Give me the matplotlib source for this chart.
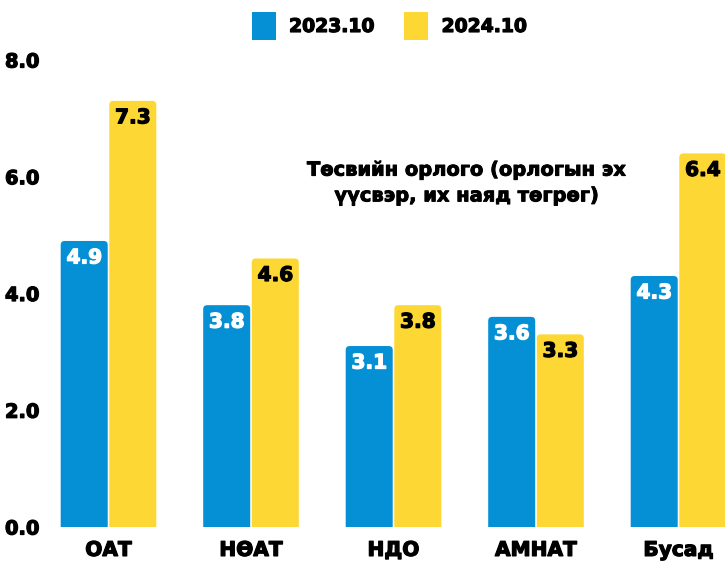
import matplotlib
matplotlib.use("Agg")
import matplotlib.pyplot as plt
from matplotlib.patches import FancyBboxPatch, Patch
import matplotlib.transforms as mtrans
import matplotlib.patheffects as pe
import numpy as np

categories = ["ОАТ", "НӨАТ", "НДО", "АМНАТ", "Бусад"]
values_2023 = [4.9, 3.8, 3.1, 3.6, 4.3]
values_2024 = [7.3, 4.6, 3.8, 3.3, 6.4]
series_names = ["2023.10", "2024.10"]
yticks = [0.0, 2.0, 4.0, 6.0, 8.0]
title_text = "Төсвийн орлого (орлогын эх\nүүсвэр, их наяд төгрөг)"

BLUE = "#0590D5"
YELLOW = "#FDD835"
plt.rcParams["font.family"] = ["DejaVu Sans"]

def thick(color="black", lw=0.9):
    return [pe.withStroke(linewidth=lw, foreground=color)]

W, H = 725, 561
fig = plt.figure(figsize=(W / 100, H / 100), dpi=100)
ax_left, ax_right = 50, 725
ax_bottom, ax_top = 527, 60
ax = fig.add_axes([ax_left / W, (H - ax_bottom) / H, (ax_right - ax_left) / W, (ax_bottom - ax_top) / H])

spacing = 142.5
xmin = -(108.5 - ax_left) / spacing
xmax = 4 + (ax_right - 678.5) / spacing
ax.set_xlim(xmin, xmax)
ax.set_ylim(0, 8)

x = np.arange(len(categories))
bw = 0.33
gap = 0.011
px_x = 1 / spacing
px_y = 8 / (ax_bottom - ax_top)
r = 0.028
aspect = px_y / px_x

def draw(xs, vals, color, txtcolor):
    bars = ax.bar(xs, vals, bw, color=color)
    for b, v in zip(bars, vals):
        x0, w, h = b.get_x(), b.get_width(), b.get_height()
        b.set_visible(False)
        p = FancyBboxPatch((x0, -0.3), w, h + 0.3,
                           boxstyle=f"round,pad=0,rounding_size={r}",
                           mutation_aspect=aspect, fc=color, ec="none", clip_on=True)
        ax.add_patch(p)
        ax.text(x0 + w / 2, h - 17 * px_y, f"{v:.1f}", ha="center", va="center",
                color=txtcolor, fontsize=14.5, fontweight="bold",
                path_effects=thick(txtcolor))

draw(x - gap / 2 - bw / 2, values_2023, BLUE, "white")
draw(x + gap / 2 + bw / 2, values_2024, YELLOW, "black")

ax.set_yticks(yticks)
ax.set_yticklabels([f"{t:.1f}" for t in yticks], fontsize=14, fontweight="bold")
ax.set_xticks(x)
ax.set_xticklabels(categories, fontsize=14.5, fontweight="bold")
ax.tick_params(axis="both", length=0)
ax.tick_params(axis="x", pad=10)
for lbl in ax.get_yticklabels():
    lbl.set_horizontalalignment("left")
    lbl.set_transform(mtrans.blended_transform_factory(fig.transFigure, ax.transData))
    lbl.set_position((5 / W, lbl.get_position()[1]))
    lbl.set_path_effects(thick())
for lbl in ax.get_xticklabels():
    lbl.set_path_effects(thick())
for s in ax.spines.values():
    s.set_visible(False)

ax.text(467 / W, (H - 183) / H, title_text, transform=fig.transFigure, ha="center", va="center",
        fontsize=14, fontweight="bold", linespacing=1.45, path_effects=thick(lw=0.7))

handles = [Patch(facecolor=BLUE), Patch(facecolor=YELLOW)]
leg = fig.legend(handles, series_names, loc="center", bbox_to_anchor=(389 / W, (H - 26) / H),
                 ncol=2, frameon=False, prop={"size": 13.5, "weight": "bold"},
                 handlelength=1.3, handleheight=2.0, handletextpad=0.7, columnspacing=1.6)
for t in leg.get_texts():
    t.set_path_effects(thick())

fig.savefig("out.png", dpi=100)
